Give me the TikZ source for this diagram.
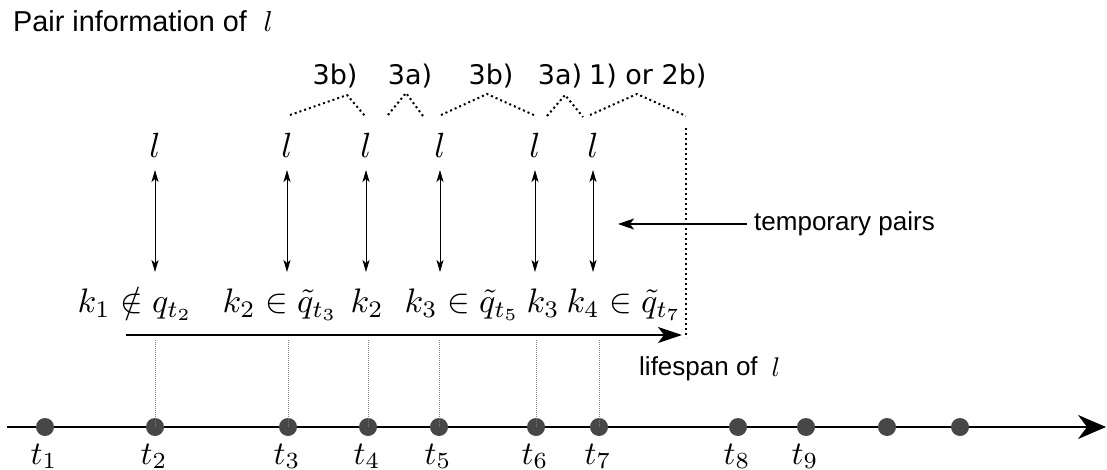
\documentclass[tikz,border=0pt]{standalone}
\usepackage{fontspec}
\setmainfont{Liberation Sans}
\newfontfamily\dejavu{DejaVu Sans}
\usetikzlibrary{arrows.meta}
\begin{document}
\begin{tikzpicture}[x=1pt,y=-1pt,
  sans/.style={font=\fontsize{26}{30}\selectfont, inner sep=0pt},
  titlefont/.style={font=\fontsize{28.8}{32}\selectfont, inner sep=0pt},
  mathlbl/.style={font=\fontsize{10}{12}\selectfont, scale=3.4, inner sep=0pt},
  llbl/.style={font=\fontsize{10}{12}\selectfont, scale=3.5, inner sep=0pt},
  tlbl/.style={font=\fontsize{10}{12}\selectfont, scale=3.3, inner sep=0pt},
  smallmath/.style={font=\fontsize{10}{12}\selectfont, scale=2.7, inner sep=0pt},
  hatlbl/.style={font=\dejavu\fontsize{27}{30}\selectfont, inner sep=0pt},
  tdot/.style={circle, fill=black!72, minimum size=18pt, inner sep=0pt},
  guide/.style={gray, line width=0.6pt, dash pattern=on 1pt off 1pt},
  hat/.style={line width=2pt, dash pattern=on 2pt off 3pt},
  pairarrow/.style={line width=0.9pt, {Stealth[length=12pt,width=7pt,inset=3pt]}-{Stealth[length=12pt,width=7pt,inset=3pt]}}
]
\useasboundingbox (0,0) rectangle (1107,470);

% title
\node[titlefont, anchor=base west] (title) at (13,32) {Pair information of};
\node[smallmath, scale=1.07, anchor=base west] (titlel) at (263,32) {$l$};

% timeline
\coordinate (tl0) at (7,427);
\coordinate (tl1) at (1106,427);
\draw[line width=2pt, -{Stealth[length=28pt,width=24pt,inset=9pt]}] (tl0) -- (tl1);

\foreach \i/\x in {1/45,2/155,3/288,4/368,5/439,6/536,7/599,8/738,9/806,10/887,11/960}
  \node[tdot] (d\i) at (\x,427) {};
\foreach \i/\x in {1/44,2/154,3/287,4/367,5/438,6/535,7/598,8/737,9/805}
  \node[tlbl, anchor=base] (tl\i) at (\x,464) {$t_{\i}$};

% lifespan arrow
\coordinate (ls0) at (126,335);
\coordinate (ls1) at (682,335);
\draw[line width=2pt, -{Stealth[length=24pt,width=16pt,inset=6pt]}] (ls0) -- (ls1);
\node[sans, anchor=base west] (lifespan) at (639,375) {lifespan of};
\node[smallmath, anchor=base west] (lifespanl) at (771,376) {$l$};

% guides
\foreach \i/\x in {2/155,3/288,4/368,5/439,6/536,7/599} {
  \coordinate (g\i) at (\x,340);
  \draw[guide] (d\i.center) -- (g\i);
}

% vertical dotted boundary
\coordinate (vtop) at (686,128);
\coordinate (vbot) at (686,338);
\draw[hat] (vtop) -- (vbot);

% l labels and pair arrows
\foreach \i/\x in {1/155,2/287,3/366,4/440,5/535,6/593} {
  \node[llbl, anchor=base] (l\i) at (\x,158) {$l$};
  \coordinate (pa\i) at (\x,170);
  \coordinate (pb\i) at (\x,272);
  \draw[pairarrow] (pa\i) -- (pb\i);
}

% math row
\node[mathlbl, anchor=base west] (m1) at (77,312) {$k_1 \notin q_{t_2}$};
\node[mathlbl, anchor=base west] (m2) at (222,312) {$k_2 \in \tilde{q}_{t_3}$};
\node[mathlbl, anchor=base west] (m3) at (350,312) {$k_2$};
\node[mathlbl, anchor=base west] (m4) at (404,312) {$k_3 \in \tilde{q}_{t_5}$};
\node[mathlbl, anchor=base west] (m5) at (526,312) {$k_3$};
\node[mathlbl, anchor=base west] (m6) at (566,312) {$k_4 \in \tilde{q}_{t_7}$};

% temporary pairs
\node[sans, anchor=base west] (tp) at (754,230) {temporary pairs};
\coordinate (tpa) at (747,224);
\coordinate (tpb) at (618,224);
\draw[line width=1.5pt, -{Stealth[length=16pt,width=11pt,inset=4pt]}] (tpa) -- (tpb);

% hats
\draw[hat] (290,115) -- (347,95) -- (365,116);
\draw[hat] (388,115) -- (406,93) -- (423,116);
\draw[hat] (441,115) -- (487,94) -- (536,116);
\draw[hat] (547,116) -- (565,95) -- (583,117);
\draw[hat] (590,115) -- (637,94) -- (686,116);
\node[hatlbl, anchor=base] (h1) at (335,85) {3b)};
\node[hatlbl, anchor=base] (h2) at (410,85) {3a)};
\node[hatlbl, anchor=base] (h3) at (491,85) {3b)};
\node[hatlbl, anchor=base] (h4) at (560,85) {3a)};
\node[hatlbl, anchor=base west] (h5) at (589,85) {1) or 2b)};
\end{tikzpicture}
\end{document}
